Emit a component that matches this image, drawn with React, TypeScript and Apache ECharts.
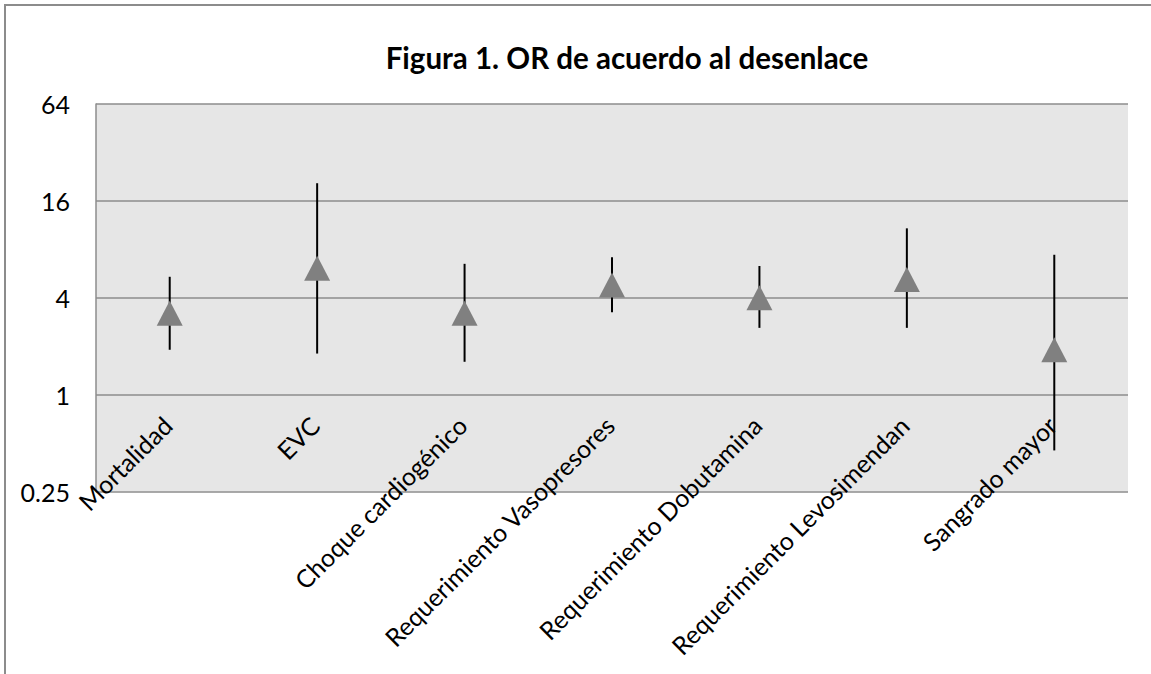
import React, { useEffect, useRef } from "react";
import * as echarts from "echarts";

const categories = [
  "Mortalidad",
  "EVC",
  "Choque cardiogénico",
  "Requerimiento Vasopresores",
  "Requerimiento Dobutamina",
  "Requerimiento Levosimendan",
  "Sangrado mayor",
];
const orValues = [3.2, 6.1, 3.2, 4.8, 4.0, 5.2, 1.9];
const ciLow = [1.9, 1.8, 1.6, 3.25, 2.6, 2.6, 0.45];
const ciHigh = [5.4, 20.6, 6.5, 7.15, 6.3, 10.8, 7.4];
const yTickLabels = ["0.25", "1", "4", "16", "64"];
const titleText = "Figura 1. OR de acuerdo al desenlace";

const FONT = "Lato, 'Open Sans', sans-serif";

export default function App() {
  const ref = useRef<HTMLDivElement>(null);
  useEffect(() => {
    if (!ref.current) return;
    const chart = echarts.init(ref.current, undefined, { renderer: "svg" });
    const gridTop = 104;
    const gridBottom = 182.5;
    const plotH = 674 - gridTop - gridBottom;
    const oneOffset = -(plotH * 1) / 4;
    chart.setOption({
      animation: false,
      backgroundColor: "#ffffff",
      textStyle: { fontFamily: FONT },
      title: {
        text: titleText,
        left: 622,
        top: 37,
        textAlign: "center",
        textStyle: { fontFamily: FONT, fontSize: 29.5, fontWeight: "bold", color: "#000" },
      },
      graphic: [
        {
          type: "rect",
          shape: { x: 5, y: 5, width: 1400, height: 1000 },
          style: { fill: "none", stroke: "#8c8c8c", lineWidth: 2 },
          silent: true,
          z: 0,
        },
      ],
      grid: {
        left: 96,
        right: 23,
        top: gridTop,
        bottom: gridBottom,
        show: true,
        backgroundColor: "#e6e6e6",
        borderWidth: 0,
      },
      xAxis: {
        type: "category",
        data: categories,
        boundaryGap: true,
        offset: oneOffset,
        axisLine: { show: false },
        axisTick: { show: false },
        splitLine: { show: false },
        axisLabel: {
          interval: 0,
          rotate: 45,
          margin: 6,
          align: "right",
          verticalAlign: "top",
          padding: [0, 16, 0, 0],
          fontFamily: FONT,
          fontSize: 25,
          color: "#000",
        },
      },
      yAxis: {
        type: "log",
        logBase: 4,
        min: 0.25,
        max: 64,
        splitNumber: 4,
        axisLine: { show: true, lineStyle: { color: "#8c8c8c", width: 1.5 } },
        axisTick: { show: false },
        splitLine: { show: true, lineStyle: { color: "#8c8c8c", width: 1.5 } },
        axisLabel: {
          margin: 26,
          fontFamily: FONT,
          fontSize: 25,
          color: "#000",
          formatter: (v: number) => {
            const idx = Math.round(Math.log(v) / Math.log(4)) + 1;
            return yTickLabels[idx] ?? String(v);
          },
        },
      },
      series: [
        {
          type: "custom",
          name: "IC 95%",
          data: categories.map((_, i) => [i, ciLow[i], ciHigh[i]]),
          renderItem: (params: any, api: any) => {
            const lo = api.coord([api.value(0), api.value(1)]);
            const hi = api.coord([api.value(0), api.value(2)]);
            return {
              type: "line",
              shape: { x1: lo[0], y1: lo[1], x2: hi[0], y2: hi[1] },
              style: { stroke: "#000", lineWidth: 2 },
            };
          },
          z: 2,
        },
        {
          type: "scatter",
          name: "OR",
          data: categories.map((_, i) => [i, orValues[i]]),
          symbol: "triangle",
          symbolSize: [26, 25],
          itemStyle: { color: "#808080", opacity: 1 },
          z: 3,
        },
      ],
    });
    return () => chart.dispose();
  }, []);
  return (
    <div
      ref={ref}
      style={{ position: "fixed", left: 0, top: 0, width: 1151, height: 674 }}
    />
  );
}
